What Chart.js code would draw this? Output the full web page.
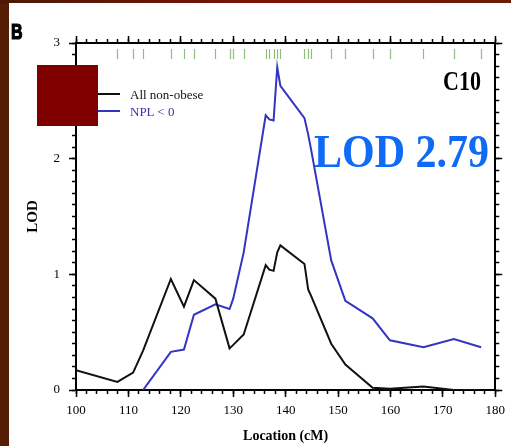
<!DOCTYPE html>
<html><head><meta charset="utf-8">
<script src="https://cdn.jsdelivr.net/npm/chart.js@4"></script>
<style>
html,body{margin:0;padding:0;}
body{width:511px;height:446px;overflow:hidden;position:relative;background:#561d05;}
#topbar{position:absolute;left:0;top:0;width:511px;height:4px;background:linear-gradient(90deg,#4c1a04,#7e1208 55%,#6a1a06);}
#panel{position:absolute;left:9px;top:3px;width:502px;height:443px;background:#fff;}
canvas{position:absolute;left:0;top:0;}
.t{position:absolute;white-space:nowrap;line-height:1;transform-origin:0 0;}
.serif{font-family:'Liberation Serif','Times New Roman',serif;}
.ln{position:absolute;height:2px;}
#sq{position:absolute;left:37px;top:65px;width:61px;height:61px;background:#800000;}
</style></head>
<body>
<div id="topbar"></div>
<div id="panel"></div>
<canvas id="c" width="511" height="446"></canvas>
<div class="t" style="left:11px;top:20px;font:bold 16px 'Liberation Sans',Arial,sans-serif;transform:scaleY(1.35);-webkit-text-stroke:0.9px #000;color:#000;">B</div>
<div class="ln" style="left:80px;top:93px;width:40px;background:#111;"></div>
<div class="ln" style="left:80px;top:110px;width:40px;background:#3434c4;"></div>
<div class="t serif" style="left:130px;top:88px;font-size:13px;color:#111;">All non-obese</div>
<div class="t serif" style="left:130px;top:105px;font-size:13px;color:#3434b4;">NPL &lt; 0</div>
<div id="sq"></div>
<div class="t serif" style="left:443px;top:67px;font-size:22px;font-weight:bold;color:#000;transform:scaleY(1.25);">C10</div>
<div class="t serif" style="left:314px;top:129px;font-size:42px;font-weight:bold;color:#0f6af5;transform:scaleY(1.08);">LOD 2.79</div>
<script>
// Marker / data locations (cM)
const locations = [100, 107.9, 110.9, 112.8, 118.1, 120.6, 122.5, 126.6, 129.3, 130.0, 132.0, 136.2, 136.9, 137.7, 138.4, 139.0, 143.6, 144.3, 144.9, 148.7, 151.4, 156.6, 159.9, 166.3, 172.1, 177.3];
const markerCm = locations.slice(1);
const allNonObese = [0.17, 0.07, 0.15, 0.34, 0.96, 0.72, 0.95, 0.79, 0.36, 0.39, 0.48, 1.08, 1.04, 1.03, 1.19, 1.25, 1.09, 0.87, 0.81, 0.40, 0.22, 0.02, 0.01, 0.03, 0.00, 0.00];
const nplNeg = [null, null, null, 0.00, 0.33, 0.35, 0.65, 0.74, 0.70, 0.79, 1.19, 2.375, 2.34, 2.33, 2.79, 2.63, 2.35, 2.21, 2.07, 1.12, 0.77, 0.62, 0.43, 0.37, 0.44, 0.37];
const xMin = 100, xMax = 180, xMajor = 10, xMinor = 2;
const yMin = 0, yMax = 3, yMajor = 1, yMinor = 0.1;

const serif = "'Liberation Serif','Times New Roman',serif";
const toPts = (ys) => locations.map((x, i) => ({x, y: ys[i]}));

function axis(pos, weight, step, tl, size, showLabels, extra) {
  const horiz = pos === 'top' || pos === 'bottom';
  const o = {
    type: 'linear', position: pos, weight,
    min: horiz ? xMin : yMin, max: horiz ? xMax : yMax,
    ticks: {display: showLabels, stepSize: step, autoSkip: false, maxTicksLimit: 200, maxRotation: 0,
            color: '#000', font: {family: serif, size: 13}, padding: horiz ? 6 : 9},
    grid: {drawOnChartArea: false, drawTicks: true, tickLength: tl, tickColor: '#000', tickWidth: 1.5},
    border: {display: true, color: '#000', width: 2},
    afterFit: (s) => { if (horiz) s.height = size; else s.width = size; }
  };
  return Object.assign(o, extra || {});
}

const markerPlugin = {
  id: 'markers',
  afterDatasetsDraw(chart) {
    const {ctx, chartArea, scales} = chart;
    ctx.save();
    ctx.strokeStyle = '#8cbf7c';
    ctx.lineWidth = 1.2;
    markerCm.forEach(cm => {
      const px = Math.round(scales.x.getPixelForValue(cm)) + 0.5;
      ctx.beginPath();
      ctx.moveTo(px, chartArea.top + 6);
      ctx.lineTo(px, chartArea.top + 16);
      ctx.stroke();
    });
    ctx.restore();
  }
};

new Chart(document.getElementById('c'), {
  type: 'line',
  data: {
    datasets: [
      {label: 'All non-obese', data: toPts(allNonObese), borderColor: '#111', borderWidth: 2, pointRadius: 0, tension: 0, xAxisID: 'x', yAxisID: 'y'},
      {label: 'NPL < 0', data: toPts(nplNeg), borderColor: '#3434c4', borderWidth: 2, pointRadius: 0, tension: 0, spanGaps: false, xAxisID: 'x', yAxisID: 'y'}
    ]
  },
  options: {
    responsive: false, animation: false, devicePixelRatio: 1,
    layout: {padding: 0},
    plugins: {legend: {display: false}, tooltip: {enabled: false}},
    scales: {
      x: axis('bottom', 1, xMajor, 7, 56, true, {title: {display: true, text: 'Location (cM)', color: '#000', font: {family: serif, size: 14, weight: 'bold'}, padding: {top: 0, bottom: 1}}}),
      xm: axis('bottom', 0, xMinor, 4, 0, false),
      xt: axis('top', 1, xMajor, 7, 43, false),
      xtm: axis('top', 0, xMinor, 4, 0, false),
      y: axis('left', 1, yMajor, 7, 76, true, {title: {display: true, text: 'LOD', color: '#000', font: {family: serif, size: 15, weight: 'bold'}, padding: {top: 24, bottom: 0}}}),
      ym: axis('left', 0, yMinor, 4, 0, false),
      yr: axis('right', 1, yMajor, 7, 11, false),
      yrm: axis('right', 0, yMinor, 4, 0, false)
    }
  },
  plugins: [markerPlugin]
});
</script>
</body></html>
